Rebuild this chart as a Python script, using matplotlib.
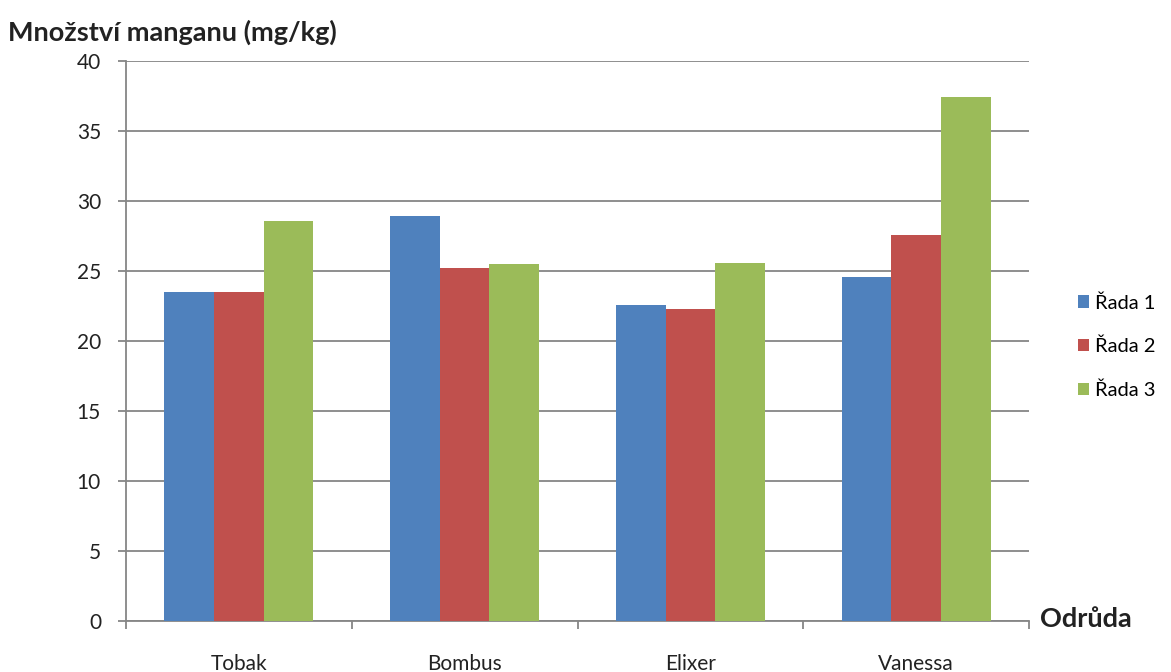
import matplotlib.pyplot as plt
import numpy as np

plt.rcParams['font.family'] = ['Lato', 'DejaVu Sans']

odrudy = ["Tobak", "Bombus", "Elixer", "Vanessa"]
rada1 = [23.5, 28.9, 22.6, 24.6]
rada2 = [23.5, 25.2, 22.3, 27.6]
rada3 = [28.6, 25.5, 25.6, 37.4]
serie = ["Řada 1", "Řada 2", "Řada 3"]
barvy = ["#4F81BD", "#C0504D", "#9BBB59"]

fig = plt.figure(figsize=(11.71, 6.72), dpi=100)
ax = fig.add_axes([126/1171, 1-621/672, (1029-126)/1171, (621-61)/672])

x = np.arange(len(odrudy))
w = 0.22
for i, (vals, name, c) in enumerate(zip([rada1, rada2, rada3], serie, barvy)):
    ax.bar(x + (i-1)*w, vals, w, color=c, label=name, zorder=3)

ax.set_xlim(-0.5, len(odrudy)-0.5)
ax.set_ylim(0, 40)
ax.set_yticks(range(0, 41, 5))
ax.yaxis.grid(True, color="#868686", linewidth=1.3, zorder=0)
ax.set_xticks(x)
ax.set_xticklabels(odrudy)
ax.set_xticks(np.arange(-0.5, len(odrudy), 1), minor=True)
ax.tick_params(axis='x', which='major', length=0, pad=24, labelsize=15, labelcolor="#222222")
ax.tick_params(axis='x', which='minor', length=6, color="#868686", width=1.3)
ax.tick_params(axis='y', length=6, color="#868686", width=1.3, pad=12, labelsize=15, labelcolor="#222222")
for s in ["top", "right"]:
    ax.spines[s].set_visible(False)
for s in ["left", "bottom"]:
    ax.spines[s].set_color("#868686")
    ax.spines[s].set_linewidth(1.3)

fig.text(8/1171, 1-32/672, "Množství manganu (mg/kg)", fontsize=19.5, fontweight="bold",
         va="center", ha="left", color="#222222")
fig.text(1040/1171, 1-619/672, "Odrůda", fontsize=19.5, fontweight="bold",
         va="center", ha="left", color="#222222")

ax.legend(loc="center left", bbox_to_anchor=(1.054, 0.49), frameon=False, fontsize=14.5,
          borderaxespad=0, borderpad=0,
          handlelength=0.55, handleheight=0.55, handletextpad=0.3, labelspacing=1.3)

plt.savefig("out.png", dpi=100)
